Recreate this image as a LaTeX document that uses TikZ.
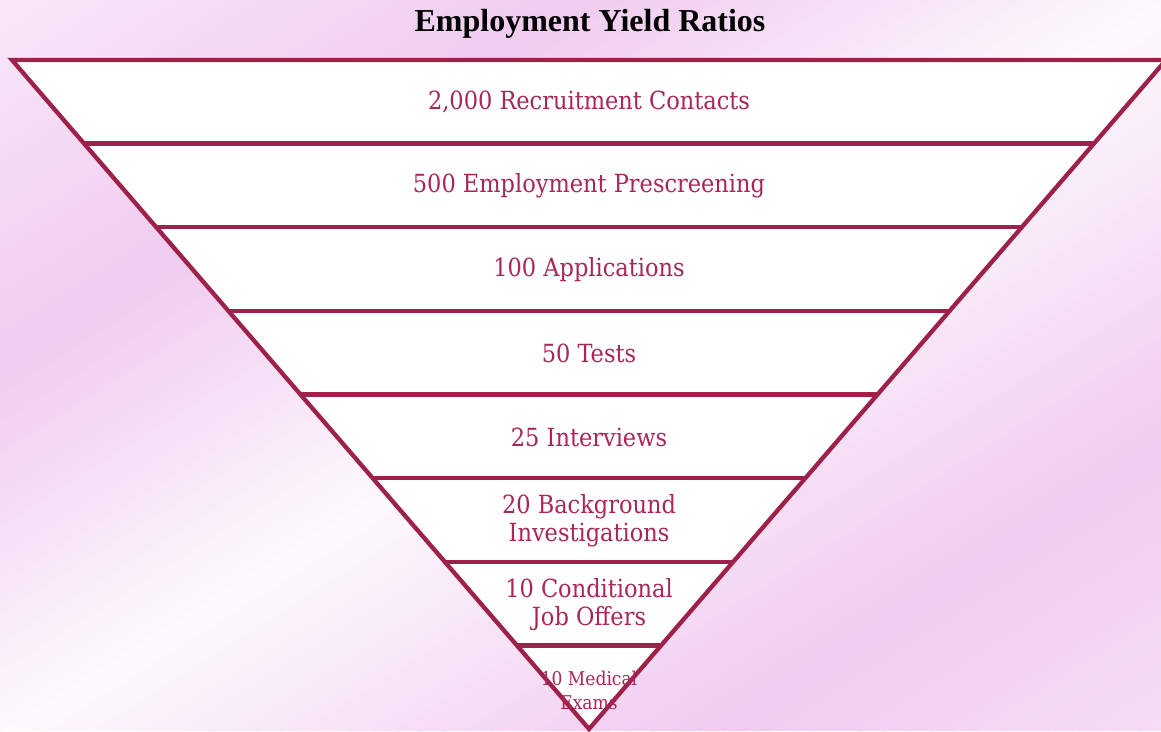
\documentclass[tikz,border=0pt]{standalone}
\usepackage{fontspec}
\setmainfont{Liberation Serif}
\newfontfamily\bandfont{DejaVu Serif Condensed}
\definecolor{cFunnel}{RGB}{158,33,74}
\definecolor{cLabel}{RGB}{168,38,88}
\definecolor{cPink}{RGB}{240,204,240}
\definecolor{cPale}{RGB}{253,249,253}
\tikzset{
	rim/.style      ={draw=cFunnel, line width=4.3pt},
	lbl/.style      ={text=cLabel, font=\bandfont\fontsize{25}{28}\selectfont, align=center, inner sep=0pt},
	lblsmall/.style ={lbl, font=\bandfont\fontsize{19}{24}\selectfont},
}

\begin{document}
\begin{tikzpicture}[x=1pt,y=-1pt]
	\useasboundingbox (0,0) rectangle (1161,731);
	% background fade
	\foreach \k in {0,...,99}{
		\pgfmathsetmacro\v{\k/50}
		\pgfmathsetmacro\p{(\v<0.5) ? 40+120*\v : ((\v<1) ? 100-200*(\v-0.5) : ((\v<1.6) ? (\v-1)/0.6*100 : 100-100*(\v-1.6)))}
		\fill[cPink!\p!cPale] ({1161*\v},0) -- ({1161*(\v+0.025)},0) -- ({1161*(\v-0.975)},731) -- ({1161*(\v-1)},731) -- cycle;
	}
	% title
	\node[font=\bfseries\fontsize{32}{36}\selectfont] (title) at (590,24) {Employment Yield Ratios};
	% funnel
	\coordinate (tl) at (12,60);
	\coordinate (tr) at (1166,60);
	\coordinate (apex) at (589,729);
	\fill[white] (tl) -- (tr) -- (apex) -- cycle;
	\foreach \i in {1,...,7}{
		\pgfmathsetmacro\yy{60+83.625*\i}
		\pgfmathsetmacro\hw{577/669*(729-\yy)}
		\draw[rim] ({589-\hw},\yy) -- ({589+\hw},\yy);
	}
	\draw[rim] (tl) -- (tr) -- (apex) -- cycle;
	% stage labels
	\node[lbl] (contacts) at (589,102) {2,000 Recruitment Contacts};
	\node[lbl] (prescreen) at (589,186) {500 Employment Prescreening};
	\node[lbl] (apps) at (589,269.5) {100 Applications};
	\node[lbl] (tests) at (589,353) {50 Tests};
	\node[lbl] (interviews) at (589,437) {25 Interviews};
	\node[lbl] (background) at (589,521) {20 Background\\Investigations};
	\node[lbl] (offers) at (589,605) {10 Conditional\\Job Offers};
	\node[lblsmall] (medical) at (589,690) {10 Medical\\Exams};
\end{tikzpicture}
\end{document}
